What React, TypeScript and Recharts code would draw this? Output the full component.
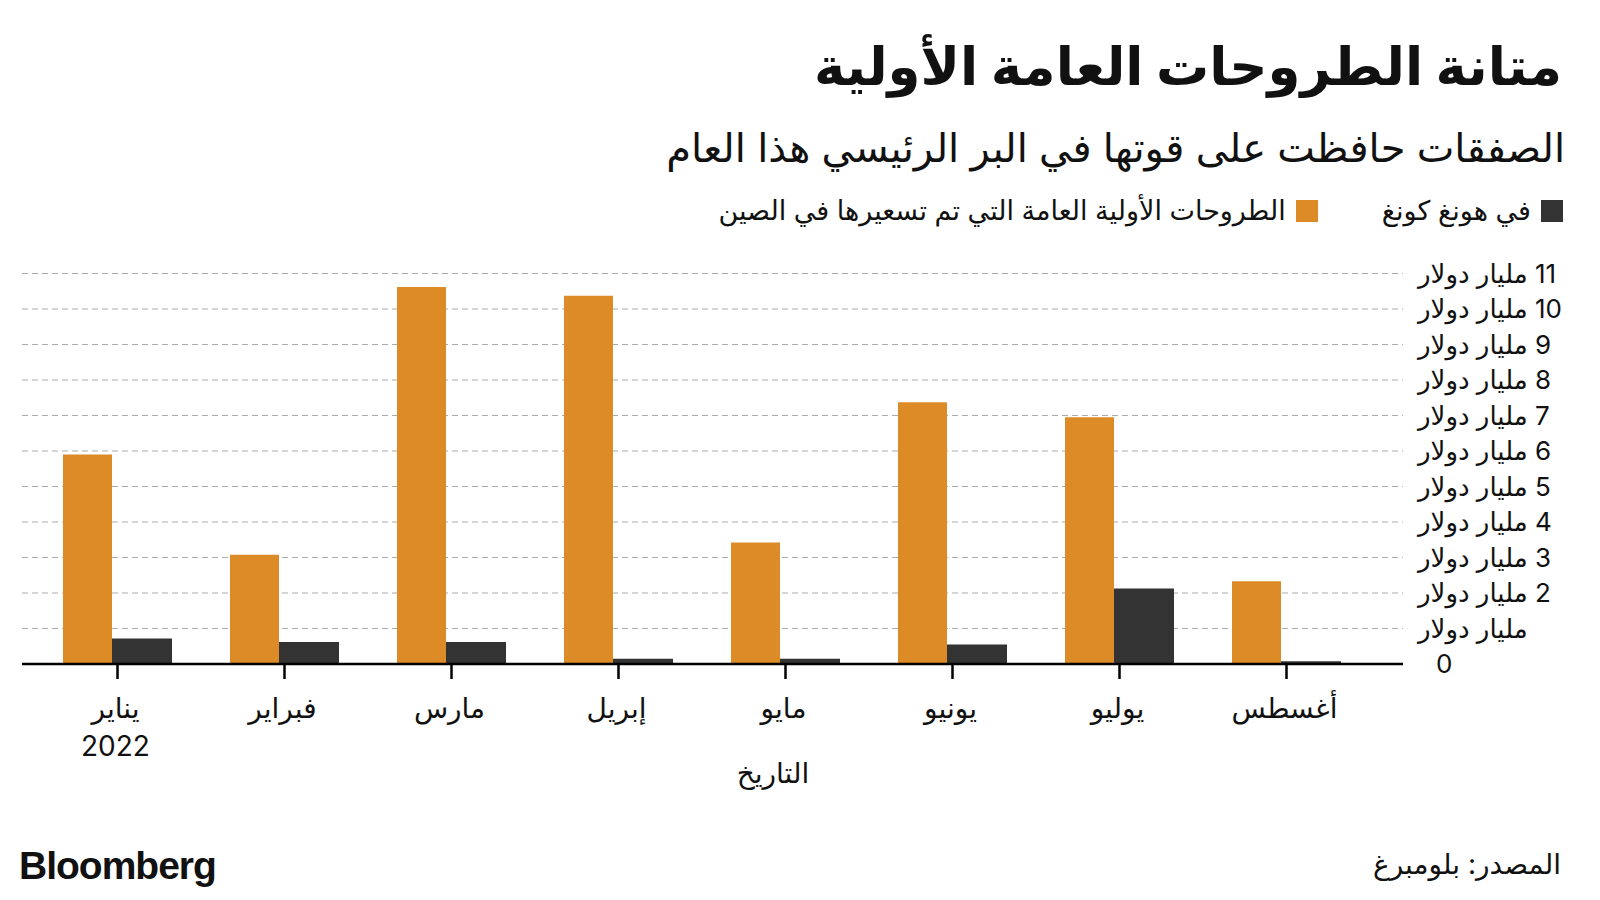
import { Bar, BarChart, CartesianGrid, XAxis, YAxis } from "recharts";

const MONTHS = ["يناير", "فبراير", "مارس", "إبريل", "مايو", "يونيو", "يوليو", "أغسطس"];
const MAINLAND = [5.9, 3.08, 10.62, 10.37, 3.42, 7.37, 6.95, 2.33];
const HONG_KONG = [0.72, 0.62, 0.62, 0.15, 0.15, 0.55, 2.13, 0.08];
const Y_TICKS = [0, 1, 2, 3, 4, 5, 6, 7, 8, 9, 10, 11];

const ORANGE = "#DC8B26";
const DARK = "#333333";
const FONT = "Inter, 'DejaVu Sans', sans-serif";

const data = MONTHS.map((month, i) => ({
  month,
  mainland: MAINLAND[i],
  hongKong: HONG_KONG[i],
}));

function yLabel(v: number): string {
  if (v === 0) return "0";
  if (v === 1) return "\u200Fمليار دولار";
  return `\u200F${v} مليار دولار`;
}

function YTick(props: any) {
  const { x, y, payload } = props;
  const v = payload.value as number;
  return (
    <text
      x={v === 0 ? x + 18 : x}
      y={y}
      dy={9}
      textAnchor="start"
      fill="#111"
      fontSize={26}
      fontFamily={FONT}
    >
      {yLabel(v)}
    </text>
  );
}

function XTick(props: any) {
  const { x, y, payload, index } = props;
  return (
    <g>
      <text x={x - 2} y={y} dy={35} textAnchor="middle" fill="#111" fontSize={28} fontFamily={FONT}>
        {payload.value}
      </text>
      {index === 0 && (
        <text x={x - 2} y={y} dy={73} textAnchor="middle" fill="#111" fontSize={28} fontFamily={FONT}>
          2022
        </text>
      )}
    </g>
  );
}

function LegendItem({ color, label }: { color: string; label: string }) {
  return (
    <div style={{ display: "flex", alignItems: "center", gap: 10 }}>
      <span style={{ width: 22, height: 22, background: color, display: "inline-block" }} />
      <span>{label}</span>
    </div>
  );
}

export default function App() {
  return (
    <div
      style={{
        position: "absolute",
        left: 0,
        top: 0,
        width: 1600,
        height: 900,
        background: "#fff",
        fontFamily: FONT,
        color: "#111",
      }}
    >
      <div
        dir="rtl"
        style={{ position: "absolute", right: 38, top: 29, fontSize: 53, fontWeight: 700, lineHeight: "74px" }}
      >
        متانة الطروحات العامة الأولية
      </div>
      <div dir="rtl" style={{ position: "absolute", right: 35, top: 120, fontSize: 40, lineHeight: "56px" }}>
        الصفقات حافظت على قوتها في البر الرئيسي هذا العام
      </div>
      <div
        dir="rtl"
        style={{
          position: "absolute",
          right: 37,
          top: 191,
          fontSize: 27,
          display: "flex",
          gap: 64,
          lineHeight: "40px",
        }}
      >
        <LegendItem color={DARK} label="في هونغ كونغ" />
        <LegendItem color={ORANGE} label="الطروحات الأولية العامة التي تم تسعيرها في الصين" />
      </div>

      <div style={{ position: "absolute", left: 0, top: 0 }}>
        <BarChart
          width={1600}
          height={900}
          data={data}
          margin={{ top: 273.5, right: 7, bottom: 196, left: 22 }}
          barGap={0}
        >
          <CartesianGrid vertical={false} stroke="#ababab" strokeDasharray="6 4" />
          <XAxis
            dataKey="month"
            height={40}
            padding={{ left: 12, right: 33 }}
            axisLine={{ stroke: "#000", strokeWidth: 2.5 }}
            tickLine={{ stroke: "#000", strokeWidth: 2.5 }}
            tickSize={15}
            tickMargin={4}
            interval={0}
            tick={<XTick />}
          />
          <YAxis
            orientation="right"
            width={190}
            domain={[0, 11]}
            ticks={Y_TICKS}
            interval={0}
            axisLine={false}
            tickLine={false}
            tickSize={0}
            tickMargin={15}
            tick={<YTick />}
          />
          <Bar dataKey="mainland" fill={ORANGE} barSize={49} isAnimationActive={false} />
          <Bar dataKey="hongKong" fill={DARK} barSize={60} isAnimationActive={false} />
        </BarChart>
      </div>

      <div style={{ position: "absolute", left: 703, top: 756, fontSize: 28, width: 140, textAlign: "center" }}>
        التاريخ
      </div>
      <div
        style={{
          position: "absolute",
          left: 19,
          top: 844,
          fontSize: 39,
          fontWeight: 700,
          letterSpacing: -1,
          fontFamily: "'Liberation Sans', Arial, sans-serif",
        }}
      >
        Bloomberg
      </div>
      <div dir="rtl" style={{ position: "absolute", right: 39, top: 847, fontSize: 28 }}>
        المصدر: بلومبرغ
      </div>
    </div>
  );
}
